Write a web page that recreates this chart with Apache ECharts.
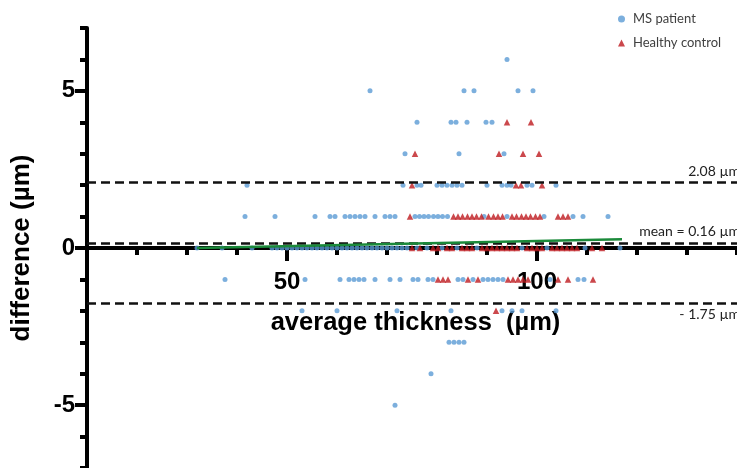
<!DOCTYPE html>
<html>
<head>
<meta charset="utf-8">
<script src="https://cdn.jsdelivr.net/npm/echarts@6/dist/echarts.min.js"></script>
<style>
  html, body { margin: 0; padding: 0; background: #fff; }
  #chart { width: 737px; height: 468px; }
</style>
</head>
<body>
<div id="chart"></div>
<script>
// Bland-Altman agreement: average thickness vs. difference between two measurements (µm)
const seriesNames = ['MS patient', 'Healthy control'];

// [average thickness, difference]
const msPatient = [
  [94, 6],
  [66.6, 5], [85.4, 5], [87.4, 5], [96.2, 5], [99.2, 5],
  [76, 4], [82.8, 4], [83.8, 4], [86, 4], [89.8, 4], [91, 4],
  [73.6, 3], [84.4, 3], [93.4, 3],
  [42, 2], [73.2, 2], [76, 2], [76.8, 2], [80, 2], [81, 2], [82, 2], [83, 2], [84, 2], [85, 2],
  [90, 2], [93, 2], [94, 2], [94.8, 2], [98, 2], [99, 2], [103.8, 2],
  [41.6, 1], [47.6, 1], [55.6, 1], [58.6, 1], [59.6, 1], [61.6, 1], [62.6, 1], [63.6, 1], [64.6, 1],
  [65.6, 1], [67.6, 1], [69.6, 1], [70.6, 1], [71.6, 1], [75.6, 1], [76.5, 1], [77.4, 1], [78.3, 1],
  [79.3, 1], [80.2, 1], [81.1, 1], [82.1, 1], [89.4, 1], [94, 1], [101.4, 1], [107.2, 1], [109.2, 1], [114.2, 1],
  [32, 0], [37, 0], [43, 0], [47, 0], [48, 0], [49, 0], [50, 0], [51, 0], [52, 0], [53, 0], [54, 0],
  [55, 0], [56, 0], [57, 0], [58, 0], [59, 0], [60, 0], [61, 0], [62, 0], [63, 0], [64, 0], [65, 0],
  [66, 0], [67, 0], [68, 0], [69, 0], [70, 0], [71, 0], [72, 0], [73, 0], [74, 0], [76, 0], [78, 0],
  [81, 0], [84, 0], [88, 0], [97, 0], [102, 0], [109.6, 0], [116.6, 0],
  [37.6, -1], [53.6, -1], [60.6, -1], [62.4, -1], [63.4, -1], [64.4, -1], [65.4, -1], [67.6, -1],
  [70.6, -1], [72.6, -1], [75.2, -1], [76.2, -1], [78.2, -1], [79.2, -1], [84.2, -1], [85.2, -1],
  [87.2, -1], [89.2, -1], [90.2, -1], [91.2, -1], [92.2, -1], [93.2, -1], [102.6, -1], [108.2, -1], [109.4, -1],
  [53, -2], [60, -2], [72, -2], [82.8, -2], [93, -2], [95, -2], [97, -2], [103.8, -2],
  [82.4, -3], [83.4, -3], [84.4, -3], [85.4, -3],
  [78.8, -4],
  [71.6, -5]
];

const healthyControl = [
  [94, 4], [98.8, 4],
  [75.6, 3], [92.4, 3], [97.2, 3], [100.4, 3],
  [75, 2], [95.8, 2], [96.8, 2], [101, 2],
  [74.6, 1], [83.3, 1], [84.2, 1], [85.1, 1], [86.1, 1], [87, 1], [87.9, 1], [88.9, 1], [90.3, 1],
  [91.3, 1], [92.2, 1], [93.1, 1], [95, 1], [95.9, 1], [96.9, 1], [97.8, 1], [98.7, 1], [99.7, 1],
  [100.6, 1], [104.2, 1], [105.2, 1], [106.2, 1],
  [75, 0], [76.6, 0], [79.2, 0], [80.2, 0], [82, 0], [83, 0], [85, 0], [86, 0], [87, 0], [89, 0],
  [90, 0], [91, 0], [92, 0], [93, 0], [94, 0], [95, 0], [96, 0], [98, 0], [99, 0], [100, 0],
  [101, 0], [103, 0], [104, 0], [105, 0], [106, 0], [107, 0], [108, 0], [111, 0], [113, 0],
  [80.2, -1], [81.2, -1], [82.2, -1], [86.2, -1], [88.2, -1], [94.2, -1], [95.2, -1], [96.2, -1],
  [97.2, -1], [98.2, -1], [104.2, -1], [106.2, -1], [111.2, -1],
  [91.8, -2]
];

// regression of difference on average
const fitLine = [[32, 0.0], [117, 0.28]];

// upper limit of agreement, mean difference, lower limit of agreement
const limitValues = [2.08, 0.16, -1.75];
const limitLabels = ['2.08 µm', 'mean = 0.16 µm', '- 1.75 µm'];

const xLabelTicks = [50, 100];
const yLabelTicks = [-5, 0, 5];

const chart = echarts.init(document.getElementById('chart'), null, { renderer: 'canvas' });

const boldFont = 'Liberation Sans, Arial, sans-serif';
const thinFont = 'Lato, sans-serif';

const axisLineStyle = { color: '#000', width: 4 };

// plot area and y range; the x axis is lifted from the bottom edge up to y = 0
const gridTop = 28;
const gridHeight = 440;
const yMin = -7;
const yMax = 7;
const zeroOffset = -gridHeight * (0 - yMin) / (yMax - yMin);

chart.setOption({
  animation: false,
  backgroundColor: '#fff',
  grid: { left: 87, right: -7, top: gridTop, height: gridHeight, containLabel: false, outerBoundsMode: 'none' },
  legend: {
    data: [
      { name: seriesNames[0], icon: 'circle' },
      { name: seriesNames[1], icon: 'triangle' }
    ],
    orient: 'vertical',
    left: 613,
    top: 7,
    itemWidth: 7,
    itemHeight: 7,
    itemGap: 10,
    textStyle: { fontFamily: thinFont, fontSize: 13, color: '#404040', lineHeight: 14, padding: [0, 0, 0, 3] }
  },
  xAxis: [
    {
      type: 'value', min: 10, max: 141.4, interval: 10, position: 'bottom', offset: zeroOffset,
      axisLine: { show: true, onZero: false, lineStyle: axisLineStyle },
      axisTick: { show: true, length: 7, lineStyle: { color: '#000', width: 4 } },
      axisLabel: { show: false },
      splitLine: { show: false },
      name: 'average thickness  (µm)',
      nameLocation: 'middle',
      nameGap: 62,
      nameTextStyle: { fontFamily: boldFont, fontWeight: 'bold', fontSize: 25.5, color: '#000' }
    },
    {
      type: 'value', min: 10, max: 141.4, interval: 10, position: 'bottom', offset: zeroOffset,
      axisLine: { show: false, onZero: false },
      axisTick: { show: true, length: 13, customValues: xLabelTicks, lineStyle: { color: '#000', width: 4 } },
      axisLabel: {
        show: true, customValues: xLabelTicks, margin: 22,
        fontFamily: boldFont, fontWeight: 'bold', fontSize: 24, color: '#000'
      },
      splitLine: { show: false }
    }
  ],
  yAxis: [
    {
      type: 'value', min: yMin, max: yMax, interval: 1, position: 'left',
      axisLine: { show: true, onZero: false, lineStyle: axisLineStyle },
      axisTick: { show: true, length: 7, lineStyle: { color: '#000', width: 4 } },
      axisLabel: { show: false },
      splitLine: { show: false },
      name: 'difference (µm)',
      nameLocation: 'middle',
      nameRotate: 90,
      nameGap: 52,
      nameTextStyle: { fontFamily: boldFont, fontWeight: 'bold', fontSize: 26, color: '#000' }
    },
    {
      type: 'value', min: yMin, max: yMax, interval: 1, position: 'left',
      axisLine: { show: false, onZero: false },
      axisTick: { show: true, length: 12, customValues: yLabelTicks, lineStyle: { color: '#000', width: 4 } },
      axisLabel: {
        show: true, customValues: yLabelTicks, margin: 12,
        fontFamily: boldFont, fontWeight: 'bold', fontSize: 24, color: '#000'
      },
      splitLine: { show: false }
    }
  ],
  series: [
    {
      name: seriesNames[0],
      type: 'scatter',
      data: msPatient,
      symbol: 'circle',
      symbolSize: 5,
      itemStyle: { color: '#5B9BD5' },
      z: 3
    },
    {
      name: seriesNames[1],
      type: 'scatter',
      data: healthyControl,
      symbol: 'triangle',
      symbolSize: 6.5,
      itemStyle: { color: '#BE1A1F' },
      z: 4
    },
    {
      name: 'fit',
      type: 'line',
      data: fitLine,
      showSymbol: false,
      symbol: 'none',
      lineStyle: { color: '#1B8A3A', width: 2.5 },
      z: 5,
      markLine: {
        silent: true,
        symbol: 'none',
        lineStyle: { color: '#111', width: 2.5, type: [9, 5] },
        data: limitValues.map((v, i) => ({
          yAxis: v,
          label: {
            show: true,
            formatter: limitLabels[i],
            position: v < 0 ? 'insideEndBottom' : 'insideEndTop',
            distance: 4,
            fontFamily: thinFont,
            fontSize: 14,
            color: '#222'
          }
        }))
      }
    }
  ]
});
</script>
</body>
</html>
